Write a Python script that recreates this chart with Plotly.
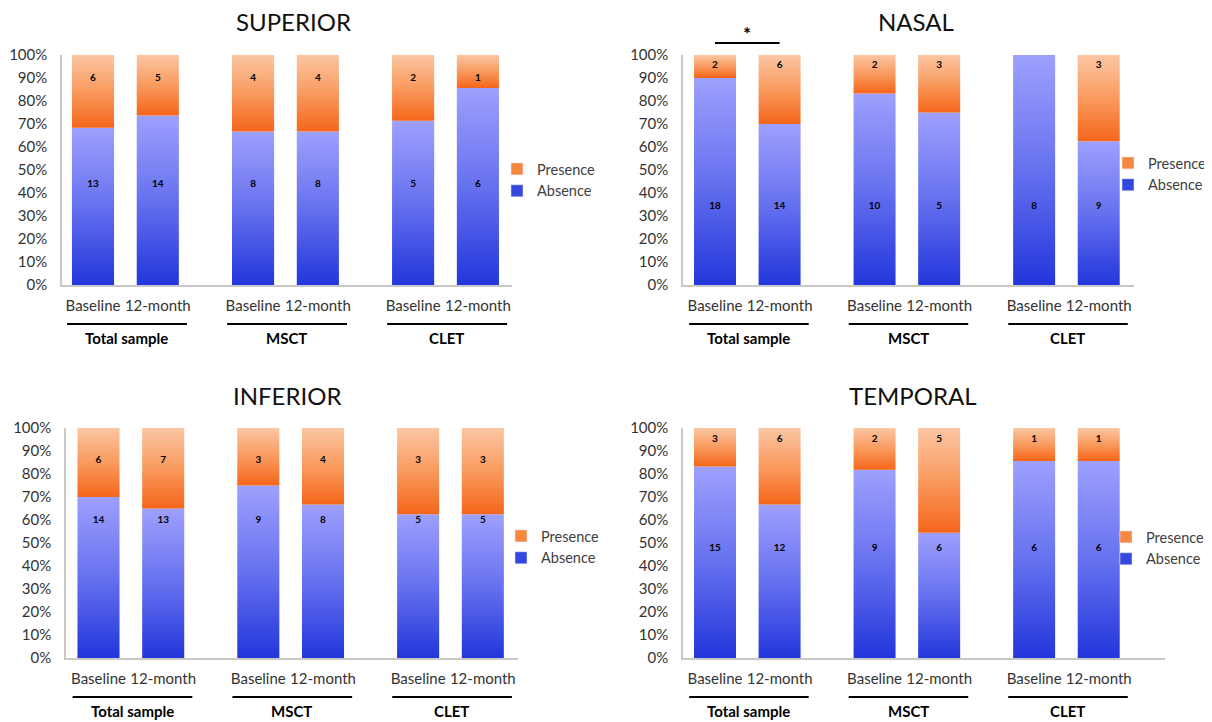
import plotly.graph_objects as go

# ---------------- data ----------------
regions = ["SUPERIOR", "NASAL", "INFERIOR", "TEMPORAL"]
groups = ["Total sample", "MSCT", "CLET"]
timepoints = ["Baseline", "12-month"]
series_names = ["Presence", "Absence"]

# counts shown as labels (per bar: Total B, Total 12m, MSCT B, MSCT 12m, CLET B, CLET 12m)
superior_absence = [13, 14, 8, 8, 5, 6]
superior_presence = [6, 5, 4, 4, 2, 1]
nasal_absence = [18, 14, 10, 5, 8, 9]
nasal_presence = [2, 6, 2, 3, 0, 3]
inferior_absence = [14, 13, 9, 8, 5, 5]
inferior_presence = [6, 7, 3, 4, 3, 3]
temporal_absence = [15, 12, 9, 6, 6, 6]
temporal_presence = [3, 6, 2, 5, 1, 1]

# share of "Absence" (%) as drawn in the bars
superior_absence_pct = [68.4, 73.7, 66.7, 66.7, 71.4, 85.7]
nasal_absence_pct = [90.0, 70.0, 83.3, 75.0, 100.0, 62.5]
inferior_absence_pct = [70.0, 65.0, 75.0, 66.7, 62.5, 62.5]
temporal_absence_pct = [83.3, 66.7, 81.8, 54.5, 85.7, 85.7]

y_tick_values = [0, 10, 20, 30, 40, 50, 60, 70, 80, 90, 100]

# ---------------- layout constants ----------------
OFF = 8                      # page body margin
W, H = 1212 - OFF, 722 - OFF
def px2x(px):
    return (px - OFF) / W
def px2y(py):
    return 1 - (py - OFF) / H

FONT = "Lato, 'Open Sans', sans-serif"
TXT = "#404040"
bar_pos = [0, 1, 2.47, 3.47, 4.94, 5.94]
bar_w = 0.65
blue_scale = [[0, "#2236db"], [0.5, "#6671ef"], [1, "#9ea0fd"]]
orange_scale = [[0, "#f5661a"], [0.5, "#f99a5e"], [1, "#fbc6a3"]]

panels = [
    dict(name=regions[0], absn=superior_absence, pres=superior_presence, pct=superior_absence_pct,
         xpx=(62, 512), ypx=(55, 285), c0=93, unit=64.8, title_x=293, title_y=21,
         lab_pres=89.8, lab_abs=43.5, leg_text_x=537, leg_y=170),
    dict(name=regions[1], absn=nasal_absence, pres=nasal_presence, pct=nasal_absence_pct,
         xpx=(683, 1134), ypx=(55, 285), c0=715, unit=64.6, title_x=916, title_y=21,
         lab_pres=95.5, lab_abs=34.3, leg_text_x=1148, leg_y=164),
    dict(name=regions[2], absn=inferior_absence, pres=inferior_presence, pct=inferior_absence_pct,
         xpx=(66, 518), ypx=(428, 658), c0=98.5, unit=64.7, title_x=287, title_y=395,
         lab_pres=86.0, lab_abs=60.0, leg_text_x=541, leg_y=537),
    dict(name=regions[3], absn=temporal_absence, pres=temporal_presence, pct=temporal_absence_pct,
         xpx=(683, 1165), ypx=(428, 658), c0=715, unit=64.6, title_x=913, title_y=395,
         lab_pres=94.8, lab_abs=47.8, leg_text_x=1146, leg_y=538),
]

fig = go.Figure()
layout = dict(width=W, height=H, autosize=False, margin=dict(l=0, r=0, t=0, b=0, autoexpand=False),
              paper_bgcolor="white", plot_bgcolor="white", showlegend=True,
              font=dict(family=FONT, color=TXT))
annotations = []
shapes = []

for i, p in enumerate(panels):
    k = "" if i == 0 else str(i + 1)
    xa, ya = "x" + k, "y" + k
    leg = "legend" + k
    left, right = p["xpx"]
    top, bottom = p["ypx"]
    rng = [(left - p["c0"]) / p["unit"], (right - p["c0"]) / p["unit"]]
    layout["xaxis" + k] = dict(domain=[px2x(left), px2x(right)], range=rng, anchor=ya,
                               showgrid=False, zeroline=False, showline=True,
                               linecolor="#c8c8c8", linewidth=1.5, ticks="",
                               tickvals=bar_pos, ticktext=timepoints * 3, tickangle=0,
                               tickfont=dict(size=15, color="#333333"), automargin=False,
                               ticklabelstandoff=6, fixedrange=True)
    layout["yaxis" + k] = dict(domain=[px2y(bottom), px2y(top)], range=[0, 100], anchor=xa,
                               showgrid=False, zeroline=False, showline=True,
                               linecolor="#c8c8c8", linewidth=1.5, ticks="",
                               tickvals=y_tick_values, automargin=False,
                               ticktext=[f"{v}%" for v in y_tick_values],
                               tickfont=dict(size=15, color="#333333"),
                               ticklabelstandoff=10, fixedrange=True)

    # bars as gradient-filled rectangles in data coordinates
    for j, xpos in enumerate(bar_pos):
        a = p["pct"][j]
        x0, x1 = xpos - bar_w / 2, xpos + bar_w / 2
        segs = [(0, a, blue_scale, "Absence"), (a, 100, orange_scale, "Presence")]
        for y0, y1, cs, nm in segs:
            if y1 - y0 <= 0:
                continue
            fig.add_trace(go.Scatter(
                x=[x0, x1, x1, x0, x0], y=[y0, y0, y1, y1, y0],
                xaxis=xa, yaxis=ya, mode="none", fill="toself",
                fillgradient=dict(type="vertical", colorscale=cs, start=y0, stop=y1),
                showlegend=False, hoverinfo="skip", name=nm))

    # count labels
    lx, ly, lt = [], [], []
    for j, xpos in enumerate(bar_pos):
        if p["pres"][j] > 0:
            lx.append(xpos); ly.append(p["lab_pres"]); lt.append(str(p["pres"][j]))
        lx.append(xpos); ly.append(p["lab_abs"]); lt.append(str(p["absn"][j]))
    fig.add_trace(go.Scatter(x=lx, y=ly, text=lt, mode="text", xaxis=xa, yaxis=ya,
                             textfont=dict(size=10, color="black", family=FONT, weight="bold"),
                             showlegend=False, hoverinfo="skip"))

    # legend entries
    fig.add_trace(go.Bar(x=[None], y=[None], name="Presence", marker_color="#f7883f",
                         xaxis=xa, yaxis=ya, legend=leg, showlegend=True))
    fig.add_trace(go.Bar(x=[None], y=[None], name="Absence", marker_color="#3447de",
                         xaxis=xa, yaxis=ya, legend=leg, showlegend=True))
    layout[leg] = dict(x=px2x(p["leg_text_x"] - 40), xanchor="left",
                       y=px2y(p["leg_y"] - 17), yanchor="top",
                       bgcolor="rgba(0,0,0,0)", borderwidth=0, traceorder="normal",
                       font=dict(size=14.5, color=TXT, family=FONT),
                       itemwidth=30, tracegroupgap=0)

    # title
    annotations.append(dict(text=p["name"], xref="paper", yref="paper",
                            x=px2x(p["title_x"]), y=px2y(p["title_y"]),
                            xanchor="center", yanchor="middle", showarrow=False,
                            font=dict(size=24, color="#111111", family=FONT)))

    # group underlines + labels
    for g, name in enumerate(groups):
        ga, gb = bar_pos[2 * g], bar_pos[2 * g + 1]
        shapes.append(dict(type="line", xref=xa, yref=ya + " domain",
                           x0=ga - 0.4, x1=gb + 0.45, y0=-0.17, y1=-0.17,
                           line=dict(color="black", width=2)))
        annotations.append(dict(text=f"<b>{name}</b>", xref=xa, yref=ya + " domain",
                                x=(ga + gb) / 2 + 0.02, y=-0.23, xanchor="center",
                                yanchor="middle", showarrow=False,
                                font=dict(size=15, color="black", family=FONT)))

# significance bracket on NASAL (Total sample)
shapes.append(dict(type="line", xref="x2", yref="y2 domain", x0=bar_pos[0], x1=bar_pos[1],
                   y0=1.052, y1=1.052, line=dict(color="black", width=2)))
annotations.append(dict(text="<b>*</b>", xref="x2", yref="y2 domain",
                        x=(bar_pos[0] + bar_pos[1]) / 2, y=1.095, xanchor="center",
                        yanchor="middle", showarrow=False,
                        font=dict(size=19, color="black", family=FONT)))

layout["annotations"] = annotations
layout["shapes"] = shapes
fig.update_layout(**layout)
fig.write_html("out.html")
